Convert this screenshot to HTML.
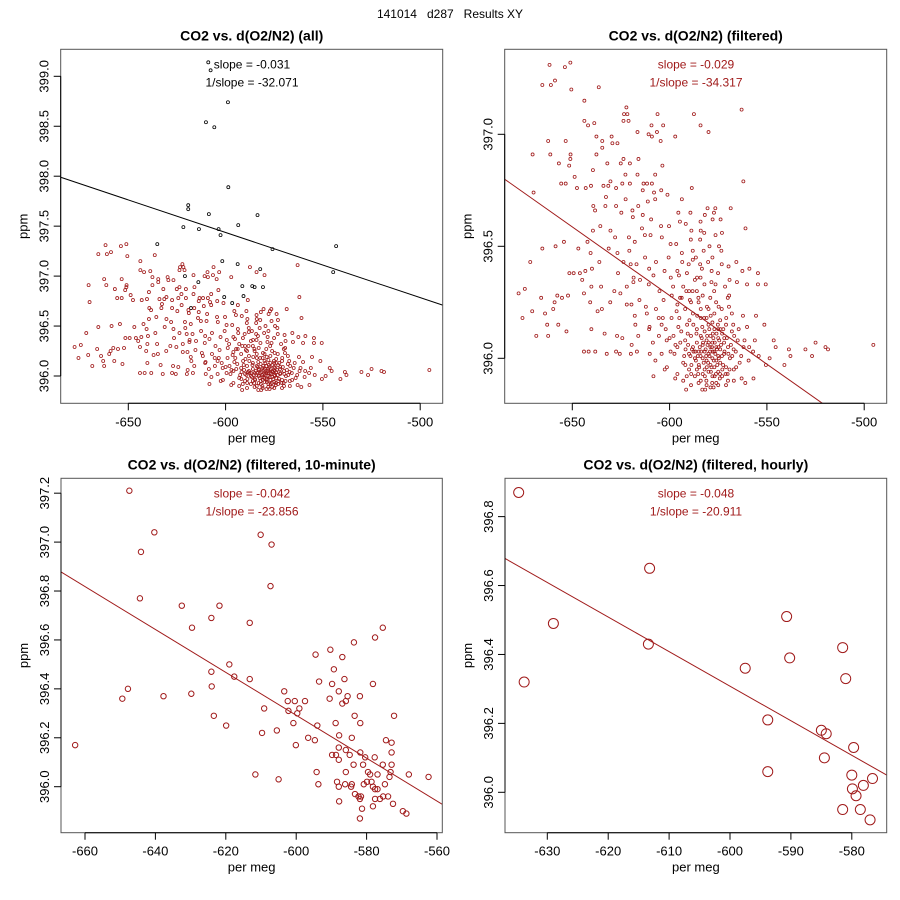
<!DOCTYPE html>
<html><head><meta charset="utf-8"><style>
body{margin:0;background:#fff;}
svg{display:block;font-family:"Liberation Sans",sans-serif;}
</style></head><body>
<svg id="chart" width="900" height="900" viewBox="0 0 900 900">
<rect width="900" height="900" fill="#fff"/>
<text x="450" y="18" text-anchor="middle" font-size="12" style="white-space:pre" xml:space="preserve">141014   d287   Results XY</text>
</svg>
<script>
const filteredPoints = [
[-661.7,397.31],[-651.0,397.32],[-653.8,397.30],[-665.4,397.22],[-661.0,397.22],[-658.9,397.24],[-650.5,397.20],[-636.4,397.21],[-643.8,397.15],[-622.2,397.12],[-623.4,397.09],[-621.7,397.09],[-606.2,397.09],[-587.5,397.09],[-563.0,397.11],[-643.8,397.06],[-641.9,397.04],[-638.7,397.05],[-623.7,397.06],[-621.1,397.06],[-609.3,397.04],[-603.3,397.04],[-584.1,397.04],[-580.0,397.01],[-616.5,397.01],[-610.8,397.00],[-606.5,397.01],[-597.1,396.99],[-609.1,396.99],[-604.6,396.97],[-662.4,396.97],[-653.4,396.97],[-637.6,396.99],[-634.6,396.97],[-629.8,396.99],[-629.4,396.96],[-626.8,396.96],[-634.6,396.94],[-670.4,396.91],[-661.3,396.91],[-650.9,396.91],[-651.0,396.89],[-651.6,396.86],[-656.9,396.87],[-637.6,396.91],[-623.7,396.89],[-616.0,396.89],[-625.1,396.87],[-620.4,396.87],[-632.0,396.87],[-603.7,396.86],[-639.4,396.84],[-648.8,396.81],[-655.7,396.78],[-653.4,396.78],[-669.9,396.74],[-647.6,396.76],[-643.1,396.76],[-640.4,396.77],[-634.0,396.77],[-631.5,396.77],[-630.4,396.79],[-622.7,396.82],[-616.5,396.82],[-607.4,396.82],[-627.5,396.76],[-624.3,396.78],[-620.4,396.78],[-613.4,396.78],[-611.6,396.78],[-609.1,396.78],[-588.6,396.76],[-562.1,396.79],[-613.8,396.75],[-608.0,396.74],[-604.3,396.75],[-601.1,396.73],[-593.7,396.71],[-632.7,396.72],[-633.0,396.68],[-639.2,396.68],[-627.5,396.68],[-622.6,396.71],[-616.1,396.68],[-611.2,396.70],[-607.4,396.71],[-638.3,396.66],[-624.8,396.65],[-619.1,396.66],[-613.8,396.64],[-618.9,396.63],[-609.5,396.62],[-604.4,396.59],[-600.3,396.59],[-595.5,396.65],[-589.3,396.65],[-594.7,396.61],[-591.7,396.60],[-580.5,396.67],[-576.5,396.67],[-577.2,396.65],[-568.6,396.67],[-561.0,396.58],[-581.9,396.64],[-577.9,396.62],[-573.8,396.62],[-584.1,396.61],[-639.4,396.57],[-635.6,396.59],[-630.4,396.57],[-628.0,396.54],[-620.9,396.54],[-617.9,396.52],[-612.7,396.55],[-609.8,396.55],[-604.0,396.54],[-599.5,396.51],[-588.8,396.57],[-584.0,396.57],[-582.2,396.56],[-576.4,396.55],[-573.1,396.56],[-589.1,396.53],[-584.3,396.53],[-579.5,396.50],[-574.6,396.50],[-654.3,396.52],[-658.6,396.50],[-665.4,396.49],[-671.6,396.43],[-646.9,396.49],[-642.2,396.52],[-640.6,396.47],[-636.1,396.43],[-631.3,396.49],[-626.8,396.47],[-623.7,396.43],[-620.0,396.42],[-617.0,396.42],[-612.6,396.45],[-607.0,396.43],[-596.6,396.51],[-593.7,396.47],[-593.5,396.43],[-588.1,396.44],[-584.3,396.42],[-578.0,396.45],[-573.2,396.42],[-569.7,396.41],[-565.7,396.43],[-562.6,396.39],[-559.0,396.40],[-554.6,396.38],[-550.6,396.33],[-554.6,396.33],[-560.2,396.33],[-651.5,396.38],[-649.3,396.38],[-646.1,396.38],[-643.3,396.39],[-639.9,396.40],[-644.9,396.35],[-644.0,396.29],[-640.2,396.32],[-635.2,396.32],[-628.4,396.30],[-625.3,396.29],[-622.0,396.32],[-618.6,396.34],[-615.2,396.35],[-610.7,396.33],[-608.3,396.37],[-602.6,396.39],[-599.4,396.36],[-596.0,396.39],[-591.1,396.38],[-585.9,396.36],[-583.4,396.40],[-578.4,396.39],[-576.4,396.33],[-569.2,396.35],[-565.4,396.34],[-677.6,396.29],[-674.4,396.31],[-666.0,396.27],[-657.7,396.28],[-655.3,396.27],[-652.2,396.28],[-659.1,396.25],[-659.8,396.22],[-664.0,396.20],[-670.6,396.21],[-675.6,396.18],[-662.9,396.15],[-657.2,396.15],[-668.5,396.10],[-662.4,396.10],[-653.0,396.12],[-640.8,396.25],[-634.8,396.22],[-637.0,396.21],[-622.0,396.24],[-619.6,396.24],[-615.5,396.26],[-612.2,396.23],[-607.0,396.22],[-603.1,396.26],[-598.9,396.28],[-594.6,396.27],[-589.6,396.26],[-585.1,396.25],[-580.8,396.23],[-574.8,396.23],[-569.5,396.23],[-562.3,396.19],[-555.6,396.19],[-551.3,396.15],[-560.2,396.14],[-617.9,396.19],[-611.7,396.20],[-605.6,396.18],[-617.6,396.15],[-610.5,396.13],[-604.1,396.15],[-640.2,396.13],[-633.4,396.11],[-627.0,396.10],[-624.3,396.09],[-616.1,396.10],[-610.3,396.14],[-608.6,396.07],[-619.5,396.06],[-644.0,396.03],[-641.6,396.03],[-638.2,396.03],[-632.3,396.02],[-627.5,396.03],[-625.6,396.02],[-619.9,396.02],[-616.8,396.03],[-610.2,396.02],[-607.3,395.99],[-604.1,396.02],[-546.5,396.08],[-545.5,396.05],[-541.0,395.97],[-538.7,396.04],[-537.9,396.01],[-530.2,396.04],[-526.8,396.01],[-525.0,396.07],[-519.9,396.05],[-518.6,396.04],[-495.3,396.06],[-548.6,396.00],[-550.5,395.97],[-554.2,396.01],[-557.1,396.03],[-559.4,395.99],[-608.3,395.92],[-602.5,395.95],[-601.4,395.96],[-597.1,395.91],[-591.5,395.86],[-583.2,395.86],[-581.7,395.86],[-577.4,395.87],[-561.1,395.89],[-556.9,395.91],
[-598,396.10],[-596,396.05],[-594,396.12],[-593,395.98],[-592,396.08],[-591,396.15],[-590,396.02],[-590,395.95],[-589,396.10],[-588,396.20],[-588,396.05],[-587,395.92],[-587,396.00],[-586,396.13],[-586,396.07],[-585,395.97],[-585,396.03],[-584,396.18],[-584,396.10],[-584,395.90],[-583,396.00],[-583,396.06],[-582,395.95],[-582,396.12],[-582,396.03],[-581,395.99],[-581,396.08],[-581,395.88],[-580,396.02],[-580,395.94],[-580,396.15],[-579,396.05],[-579,395.97],[-579,396.10],[-578,395.92],[-578,396.00],[-578,396.07],[-577,396.03],[-577,395.96],[-577,396.13],[-576,395.99],[-576,396.05],[-576,395.89],[-575,396.01],[-575,396.09],[-575,395.94],[-574,396.04],[-574,395.98],[-573,396.11],[-573,395.92],[-572,396.02],[-572,396.07],[-571,395.96],[-570,396.05],[-570,395.90],[-569,396.00],[-568,396.12],[-567,395.95],[-566,396.03],[-565,396.08],[-564,395.98],[-563,395.91],[-562,396.05],[-595,396.18],[-592,396.22],[-589,396.25],[-586,396.30],[-583,396.28],[-580,396.22],[-577,396.20],[-574,396.17],[-571,396.15],[-568,396.20],[-596,395.93],[-593,395.90],[-589,395.88],[-586,395.95],[-583,395.93],[-579,395.87],[-575,395.88],[-571,395.88],[-567,395.90],
[-588.5,396.04],[-586.5,395.99],[-584.5,396.05],[-582.5,395.98],[-580.5,396.06],[-578.5,395.96],[-576.5,396.02],[-574.5,396.08],[-572.5,395.97],[-579.5,396.01],[-581.5,396.04],[-583.5,396.09],[-585.5,396.01],[-577.5,396.09],[-575.5,395.97],[-590.5,396.06],[-592.5,396.01],[-594.5,396.07],[-597.5,396.02],[-600,396.09],[-602,396.13],[-599,396.18],[-596,396.24],[-593,396.32],[-590,396.30],[-587,396.35],[-584,396.22],[-581,396.18],[-578,396.16],[-575,396.13],
[-589.3,396.01],[-587.7,396.03],[-586.2,396.11],[-585.3,395.93],[-584.1,396.01],[-583.2,396.14],[-582.8,396.07],[-581.9,395.92],[-581.2,396.01],[-580.7,396.10],[-580.2,395.98],[-579.6,396.13],[-579.2,396.03],[-578.8,395.94],[-578.2,396.05],[-577.8,396.11],[-577.3,395.99],[-576.8,396.07],[-576.2,395.93],[-575.7,396.04],[-575.2,396.15],[-574.7,396.00],[-574.2,395.91],[-573.6,396.06],[-573.1,396.01],[-572.4,396.13],[-571.8,396.03],[-571.2,395.93],[-570.6,396.09],[-569.8,396.02],[-569.2,395.95],[-568.5,396.06],[-567.8,396.01],[-566.8,396.10],[-565.8,395.96],[-591.8,396.04],[-591.2,395.92],[-590.7,396.11],[-589.8,396.17],[-588.8,395.97],[-587.8,396.15],[-586.8,396.03],[-585.8,396.19],[-584.8,395.96],[-583.8,396.03],[-582.2,396.18],[-580.9,395.96],[-579.9,396.07],[-578.9,396.19],[-577.9,396.03],[-576.9,395.92],[-575.9,396.11],[-574.9,396.05],[-573.9,396.13],[-572.9,395.95],[-571.9,396.09],[-570.9,396.18],[-595.5,396.14],[-597.0,396.06],[-599.5,396.03],[-601.5,396.08],[-603.5,396.18],[-605.5,396.10],[-593.8,396.27],[-591.4,396.30],[-588.2,396.30],[-585.2,396.27],[-582.1,396.33],[-579.1,396.27],[-576.1,396.25],[-573.2,396.22],[-570.1,396.27],[-567.3,396.15],[-564.5,396.13],[-561.5,396.08],[-595.2,396.37],[-590.2,396.42],[-586.5,396.45],[-582.5,396.48],[-578.5,396.34],[-575.1,396.38],[-571.5,396.32],[-600.5,396.45],[-605.2,396.30],[-610.5,396.40],[-614.2,396.58],[-618.5,396.36],[-620.7,396.48],[-626.5,396.38],[-630.5,396.25],[-596.4,396.21],[-598.2,396.32],[-588.1,396.48],[-584.1,396.36],[-580.2,396.43],[-577.1,396.30],[-573.4,396.48],[-569.4,396.28],[-581.1,395.90],[-578.1,395.89],[-585.1,395.89],[-574.1,395.93],[-588.9,395.93],[-591.9,395.97],[-570.2,395.93],[-567.1,396.04],[-563.2,396.01],[-559.1,396.05],[-556.2,396.08]
];
const outlierPoints = [
[-608.9,399.14],[-607.7,399.06],[-598.8,398.74],[-610.1,398.54],[-605.8,398.49],[-598.6,397.89],[-619.2,397.71],[-619.2,397.67],[-608.6,397.62],[-583.6,397.61],[-593.5,397.51],[-621.7,397.49],[-613.7,397.47],[-603.6,397.47],[-602.6,397.41],[-635.1,397.32],[-575.9,397.27],[-543.2,397.30],[-544.7,397.04],[-601.7,397.15],[-593.8,397.12],[-582.2,397.07],[-620.9,397.00],[-614.0,396.94],[-591.4,396.90],[-586.3,396.90],[-585.1,396.89],[-580.8,396.89],[-590.8,396.80],[-600.7,396.79],[-596.6,396.73],[-617.8,396.68]
];
const tenMinPoints = [
[-647.4,397.21],[-640.3,397.04],[-644.1,396.96],[-644.4,396.77],[-610.1,397.03],[-607.0,396.99],[-607.3,396.82],[-632.5,396.74],[-621.8,396.74],[-624.1,396.69],[-629.6,396.65],[-613.2,396.67],[-575.4,396.65],[-577.6,396.61],[-583.6,396.59],[-594.5,396.54],[-590.3,396.56],[-586.9,396.53],[-589.3,396.48],[-619.0,396.50],[-624.1,396.47],[-617.6,396.45],[-613.2,396.44],[-593.5,396.43],[-589.8,396.42],[-586.3,396.44],[-578.2,396.42],[-624.0,396.41],[-647.8,396.40],[-649.4,396.36],[-637.7,396.37],[-629.8,396.38],[-603.4,396.39],[-602.4,396.35],[-600.4,396.35],[-597.5,396.35],[-590.5,396.36],[-587.9,396.39],[-585.4,396.37],[-585.9,396.35],[-581.9,396.37],[-586.9,396.34],[-609.1,396.32],[-602.2,396.31],[-599.1,396.32],[-599.7,396.30],[-623.4,396.29],[-619.9,396.25],[-600.8,396.26],[-583.4,396.29],[-581.8,396.26],[-572.2,396.29],[-588.8,396.26],[-594.0,396.25],[-609.7,396.22],[-605.5,396.23],[-596.6,396.20],[-594.7,396.19],[-600.1,396.17],[-587.8,396.21],[-584.2,396.20],[-574.5,396.19],[-572.9,396.18],[-662.8,396.17],[-572.9,396.14],[-581.8,396.14],[-587.9,396.16],[-585.9,396.15],[-589.8,396.13],[-588.7,396.13],[-587.9,396.11],[-584.8,396.13],[-580.4,396.12],[-577.7,396.12],[-583.7,396.09],[-581.0,396.09],[-575.4,396.09],[-572.9,396.09],[-594.2,396.06],[-585.9,396.06],[-579.6,396.06],[-579.0,396.05],[-576.9,396.05],[-573.2,396.06],[-568.0,396.05],[-562.4,396.04],[-611.6,396.05],[-605.0,396.03],[-588.4,396.02],[-586.1,396.01],[-584.2,396.01],[-593.7,396.01],[-580.8,396.01],[-579.9,396.02],[-578.6,396.02],[-578.2,396.00],[-573.5,396.04],[-574.8,396.01],[-587.9,396.00],[-584.4,396.00],[-577.6,395.99],[-576.9,395.99],[-583.3,395.97],[-582.3,395.96],[-581.9,395.95],[-581.6,395.96],[-577.6,395.95],[-576.2,395.95],[-575.3,395.96],[-573.9,395.96],[-572.5,395.93],[-578.2,395.92],[-587.8,395.94],[-581.3,395.91],[-569.7,395.90],[-568.7,395.89],[-581.9,395.87]
];
const hourlyPoints = [
[-634.7,396.87],[-633.8,396.32],[-629.0,396.49],[-613.2,396.65],[-613.4,396.43],[-597.5,396.36],[-593.8,396.21],[-593.8,396.06],[-590.7,396.51],[-590.2,396.39],[-585.0,396.18],[-584.2,396.17],[-584.5,396.10],[-581.5,396.42],[-581.0,396.33],[-579.7,396.13],[-580.0,396.05],[-576.6,396.04],[-578.1,396.02],[-579.9,396.01],[-579.3,395.99],[-581.5,395.95],[-578.6,395.95],[-577.0,395.92]
];
const panelTitles = ["CO2 vs. d(O2/N2) (all)","CO2 vs. d(O2/N2) (filtered)","CO2 vs. d(O2/N2) (filtered, 10-minute)","CO2 vs. d(O2/N2) (filtered, hourly)"];
const slopeLabels = ["slope = -0.031","slope = -0.029","slope = -0.042","slope = -0.048"];
const invSlopeLabels = ["1/slope = -32.071","1/slope = -34.317","1/slope = -23.856","1/slope = -20.911"];
const fitSlopes = [-0.006521,-0.006127,-0.00877,-0.01003];
const fitIntercepts = [393.524,392.604,391.03,390.29];
const xTicks1 = [-650,-600,-550,-500];
const yTicks1 = [396.0,396.5,397.0,397.5,398.0,398.5,399.0];
const xTicks2 = [-650,-600,-550,-500];
const yTicks2 = [396.0,396.5,397.0];
const xTicks3 = [-660,-640,-620,-600,-580,-560];
const yTicks3 = [396.0,396.2,396.4,396.6,396.8,397.0,397.2];
const xTicks4 = [-630,-620,-610,-600,-590,-580];
const yTicks4 = [396.0,396.2,396.4,396.6,396.8];

const NS="http://www.w3.org/2000/svg";
const svg=document.getElementById('chart');
const RED="#a01a1a";
function mk(tag,attrs,parent){const e=document.createElementNS(NS,tag);for(const k in attrs)e.setAttribute(k,attrs[k]);(parent||svg).appendChild(e);return e;}

const panels=[
 {L:60.7,R:442.7,T:49.3,B:403.3, xa:-650,xpa:128.3,xs:1.946, ya:396,ypa:376,ys:99.9, xt:xTicks1,yt:yTicks1,col:"#000",r:1.5,lab:252},
 {L:504.7,R:886.7,T:49.3,B:403.3, xa:-650,xpa:572.3,xs:1.946, ya:396,ypa:358.3,ys:224, xt:xTicks2,yt:yTicks2,col:RED,r:1.5,lab:696},
 {L:61,R:442.3,T:478.3,B:832.7, xa:-660,xpa:85,xs:3.52, ya:396,ypa:786.7,ys:244.6, xt:xTicks3,yt:yTicks3,col:RED,r:2.7,lab:252},
 {L:505,R:886.7,T:478.3,B:832.7, xa:-630,xpa:547.3,xs:6.09, ya:396,ypa:792.3,ys:344.6, xt:xTicks4,yt:yTicks4,col:RED,r:5,lab:696}
];
const seriesByPanel=[filteredPoints,filteredPoints,tenMinPoints,hourlyPoints];

panels.forEach((p,i)=>{
 const g=mk('g',{});
 
 
 const X=v=>p.xpa+(v-p.xa)*p.xs, Y=v=>p.ypa-(v-p.ya)*p.ys;
 const cid='clip'+i;
 const cp=mk('clipPath',{id:cid},g);mk('rect',{x:p.L,y:p.T,width:p.R-p.L,height:p.B-p.T},cp);
 const cx=(p.L+p.R)/2;
 const t=mk('text',{x:cx,y:p.T-9,'text-anchor':'middle','font-size':14,'font-weight':'bold'},g);
 t.textContent=panelTitles[i];
 
 
 const pg=mk('g',{'clip-path':'url(#'+cid+')'},g);
 
 
 if(i===0){outlierPoints.forEach(d=>{const c=mk('circle',{cx:X(d[0]),cy:Y(d[1]),r:p.r,fill:'none',stroke:'#000','stroke-width':0.8},pg);
  
  });}
 seriesByPanel[i].forEach(d=>{const c=mk('circle',{cx:X(d[0]),cy:Y(d[1]),r:p.r,fill:'none',stroke:RED,'stroke-width':i<2?0.8:1},pg);
  
  });
 const x1=p.xa+(p.L-p.xpa)/p.xs, x2=p.xa+(p.R-p.xpa)/p.xs;
 const ln=mk('line',{x1:X(x1),y1:Y(fitIntercepts[i]+fitSlopes[i]*x1),x2:X(x2),y2:Y(fitIntercepts[i]+fitSlopes[i]*x2),stroke:p.col,'stroke-width':1,'clip-path':'url(#'+cid+')'},g);
 
 
 const bx=mk('rect',{x:p.L,y:p.T,width:p.R-p.L,height:p.B-p.T,fill:'none',stroke:'#555','stroke-width':1},g);
 
 
 const a1=mk('text',{x:p.lab,y:p.T+19,'text-anchor':'middle','font-size':12,fill:p.col},g);a1.textContent=slopeLabels[i];
 
 
 const a2=mk('text',{x:p.lab,y:p.T+37,'text-anchor':'middle','font-size':12,fill:p.col},g);a2.textContent=invSlopeLabels[i];
 
 
 const xg=mk('g',{},g);
 
 
 const xs=p.xt.map(X);
 mk('line',{x1:xs[0],x2:xs[xs.length-1],y1:p.B,y2:p.B,stroke:'#000'},xg);
 p.xt.forEach(v=>{mk('line',{x1:X(v),x2:X(v),y1:p.B,y2:p.B+7,stroke:'#000'},xg);
  const tl=mk('text',{x:X(v),y:p.B+23,'text-anchor':'middle','font-size':13},xg);tl.textContent=String(v);
  
  });
 const xl=mk('text',{x:cx,y:p.B+39,'text-anchor':'middle','font-size':13},g);xl.textContent='per meg';
 
 
 const yg=mk('g',{},g);
 
 
 const ys=p.yt.map(Y);
 mk('line',{x1:p.L,x2:p.L,y1:ys[0],y2:ys[ys.length-1],stroke:'#000'},yg);
 p.yt.forEach(v=>{mk('line',{x1:p.L,x2:p.L-7,y1:Y(v),y2:Y(v),stroke:'#000'},yg);
  const tl=mk('text',{x:p.L-12,y:Y(v),'text-anchor':'middle','font-size':13,transform:'rotate(-90 '+(p.L-12)+' '+Y(v)+')'},yg);tl.textContent=v.toFixed(1);
  
  });
 const yc=(p.T+p.B)/2, yx=p.L-33;
 const yl=mk('text',{x:yx,y:yc,'text-anchor':'middle','font-size':13,transform:'rotate(-90 '+yx+' '+yc+')'},g);yl.textContent='ppm';
 
 
});
</script>
</body></html>
